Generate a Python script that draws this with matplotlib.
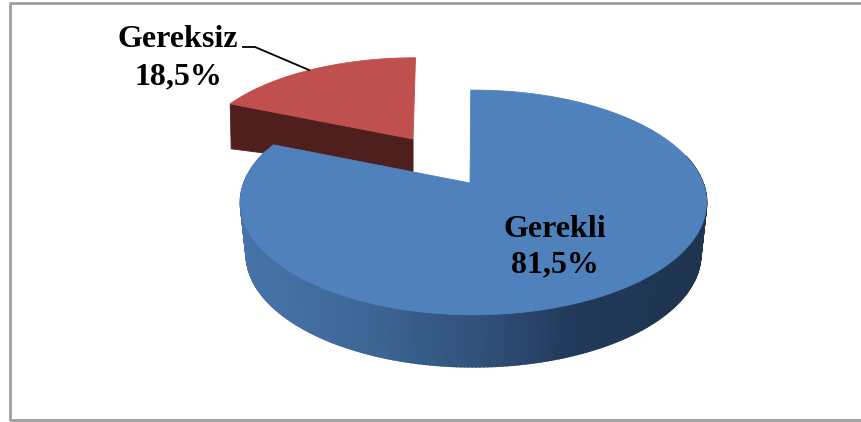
import numpy as np
import matplotlib
matplotlib.use('Agg')
import matplotlib.pyplot as plt
from matplotlib.colors import LinearSegmentedColormap

labels = ['Gerekli', 'Gereksiz']
values = [81.5, 18.5]
value_text = ['81,5%', '18,5%']

# pie geometry in image pixels
cx, cy = 473.5, 183
B, A, k = 229.5, 109, 0.173
depth = 52
base_scale = 0.975

plt.rcParams['font.family'] = ['Liberation Serif', 'DejaVu Serif']


def project(u, v):
    # flattened circle with a little perspective
    d = 1 + k * v
    return cx + B * u / d, cy - A * v / d


def arc(a0, a1, n=200):
    # angles clockwise from 12 o'clock, degrees
    t = np.radians(np.linspace(a0, a1, n))
    return np.sin(t), np.cos(t)


fig = plt.figure(figsize=(8.61, 4.22), dpi=100)
ax = fig.add_axes([0, 0, 1, 1])
ax.set_xlim(0, 861)
ax.set_ylim(422, 0)
ax.axis('off')

# chart frame
ax.plot([861, 10, 10, 861], [3, 3, 420, 420], color='#a0a0a0', lw=2, zorder=1)

blue_end = 360 * values[0] / 100

# blue side wall, strip by strip so it can be shaded left to right
side = LinearSegmentedColormap.from_list(
    'side', [(0, '#4674a8'), (0.25, '#3f6797'), (0.5, '#31527c'),
             (0.72, '#21395a'), (1, '#1e344f')])
u, v = arc(75, 288, 260)
x, y = project(u, v)
xb = cx + (x - cx) * base_scale
yb = y + depth
for i in range(len(x) - 1):
    c = side((0.5 * (x[i] + x[i + 1]) - 240) / 467)
    ax.fill([x[i], x[i + 1], xb[i + 1], xb[i]],
            [y[i], y[i + 1], yb[i + 1], yb[i]],
            facecolor=c, edgecolor=c, lw=1.2, zorder=3)

# red slice, pulled out along its bisector
mid = np.radians(blue_end + 360 * values[1] / 200)
off = 0.519
ou, ov = off * np.sin(mid), off * np.cos(mid)
ru, rv = arc(blue_end, 360, 80)
rv_all = np.r_[ov, rv + ov]
rx, ry = project(np.r_[ou, ru + ou], rv_all)
rx = rx + 3 - 6 * rv_all  # keeps the right edge upright as in the picture

# red wall under the left cut edge, shorter towards the pie centre
wx = [rx[0], rx[1], rx[1] + 1, rx[0]]
wy = [ry[0], ry[1], ry[1] + 45, ry[0] + 33]
ax.fill(wx, wy, color='#4f1f1e', lw=0.6, zorder=2)
ax.fill(rx, ry, color='#c0504d', lw=0.6, zorder=2)

# blue top face, its corner sits a bit left of the ellipse centre
bu, bv = arc(-0.8, blue_end - 1.5, 300)
bx, by = project(bu, bv)
ax.fill(np.r_[cx - 3.5, bx], np.r_[cy, by], color='#4f81bd', lw=0.6, zorder=4)

# labels
ax.text(555, 247, labels[0] + '\n' + value_text[0], fontsize=23, fontweight='bold',
        ha='center', va='center', linespacing=1.27, zorder=6, color='black')
ax.text(178, 58, labels[1] + '\n' + value_text[1], fontsize=23, fontweight='bold',
        ha='center', va='center', linespacing=1.36, zorder=6, color='black')
ax.plot([243, 255, 309], [47, 47, 70], color='black', lw=1.3, zorder=5)

fig.savefig('out.png', dpi=100)
